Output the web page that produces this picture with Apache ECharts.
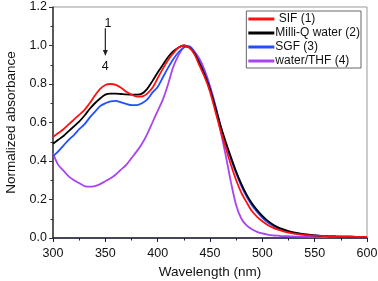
<!DOCTYPE html>
<html><head><meta charset="utf-8">
<script src="https://cdn.jsdelivr.net/npm/echarts@6/dist/echarts.min.js"></script>
<style>html,body{margin:0;padding:0;background:#fff}#c{width:378px;height:281px}</style>
</head><body><div id="c"></div>
<script>
const wavelengths = [300,305,310,315,320,325,330,335,340,345,350,355,360,365,370,375,380,385,390,395,400,405,410,415,420,425,430,435,440,445,450,455,460,465,470,475,480,485,490,495,500,505,510,515,520,525,530,540,550,560,570,580,590,600];
const sif =    [0.525,0.545,0.565,0.59,0.615,0.64,0.665,0.70,0.74,0.775,0.795,0.80,0.795,0.78,0.76,0.745,0.735,0.735,0.75,0.78,0.83,0.88,0.925,0.96,0.99,1.0,0.99,0.955,0.895,0.835,0.76,0.66,0.56,0.47,0.38,0.30,0.235,0.185,0.14,0.11,0.087,0.068,0.054,0.043,0.035,0.028,0.023,0.016,0.012,0.009,0.008,0.007,0.006,0.006];
const milliQ = [0.49,0.51,0.53,0.555,0.58,0.605,0.635,0.67,0.70,0.725,0.745,0.75,0.75,0.748,0.746,0.745,0.745,0.75,0.775,0.815,0.86,0.90,0.94,0.97,0.99,1.0,0.99,0.96,0.905,0.845,0.77,0.68,0.585,0.50,0.42,0.345,0.28,0.225,0.18,0.145,0.115,0.09,0.07,0.055,0.045,0.036,0.029,0.02,0.014,0.01,0.008,0.007,0.006,0.006];
const sgf =    [0.425,0.45,0.48,0.51,0.535,0.565,0.59,0.625,0.655,0.685,0.70,0.71,0.712,0.705,0.697,0.69,0.69,0.70,0.72,0.755,0.785,0.835,0.885,0.93,0.965,0.99,0.995,0.965,0.915,0.855,0.78,0.69,0.585,0.49,0.41,0.335,0.27,0.215,0.17,0.135,0.105,0.082,0.064,0.05,0.04,0.032,0.026,0.018,0.013,0.01,0.008,0.007,0.006,0.006];
const waterTHF=[0.44,0.38,0.35,0.32,0.30,0.285,0.27,0.267,0.27,0.28,0.295,0.31,0.33,0.355,0.38,0.415,0.45,0.49,0.54,0.60,0.66,0.72,0.80,0.89,0.95,0.99,0.995,0.97,0.93,0.87,0.79,0.69,0.56,0.43,0.29,0.17,0.10,0.065,0.045,0.032,0.024,0.018,0.014,0.012,0.01,0.009,0.008,0.007,0.006,0.005,0.005,0.005,0.005,0.005];
const seriesNames = [' SIF (1)','Milli-Q water (2)','SGF (3)','water/THF (4)'];
const seriesColors = ['#ff1010','#000000','#2050ff','#a844f0'];
const xTicks = {min:300,max:600,interval:50};
const yTicks = {min:0,max:1.2,interval:0.2};

const allData = [sif, milliQ, sgf, waterTHF];
const chart = echarts.init(document.getElementById('c'));
const font = 'Liberation Sans, Arial, sans-serif';
chart.setOption({
  animation:false,
  grid:{left:53,right:11,top:7,bottom:43,containLabel:false,outerBoundsMode:'none',show:true,borderColor:'#999',borderWidth:1},
  legend:{orient:'vertical',top:11,right:17,itemWidth:26,itemHeight:3,itemGap:2,icon:'rect',
    borderColor:'#666',borderWidth:1,padding:[2,1,1,2],backgroundColor:'#fff',
    textStyle:{fontFamily:font,fontSize:12,color:'#111',padding:[0,0,0,-4]},
    data:seriesNames},
  xAxis:{type:'value',min:xTicks.min,max:xTicks.max,interval:xTicks.interval,
    name:'Wavelength (nm)',nameLocation:'middle',nameGap:27,
    nameTextStyle:{fontFamily:font,fontSize:13.5,color:'#111'},
    axisLine:{lineStyle:{color:'#1a1a3a',width:1.5}},
    axisTick:{inside:false,length:4,lineStyle:{color:'#1a1a3a'}},
    minorTick:{show:true,splitNumber:2,length:2.5,lineStyle:{color:'#1a1a3a'}},
    splitLine:{show:false},
    axisLabel:{fontFamily:font,fontSize:12.5,color:'#111',margin:9}},
  yAxis:{type:'value',min:yTicks.min,max:yTicks.max,interval:yTicks.interval,
    name:'Normalized absorbance',nameLocation:'middle',nameGap:35,
    nameTextStyle:{fontFamily:font,fontSize:13.5,color:'#111'},
    axisLine:{show:true,lineStyle:{color:'#333',width:1.5}},
    axisTick:{show:true,inside:false,length:4,lineStyle:{color:'#333'}},
    minorTick:{show:true,splitNumber:2,length:2.5,lineStyle:{color:'#333'}},
    splitLine:{show:false},
    axisLabel:{fontFamily:font,fontSize:12.5,color:'#111',margin:6,formatter:v=>v.toFixed(1)}},
  series: seriesNames.map((n,i)=>({name:n,type:'line',showSymbol:false,smooth:0.3,
    color:seriesColors[i],lineStyle:{width:1.8,color:seriesColors[i]},
    data:wavelengths.map((w,j)=>[w,allData[i][j]]),z:10-i}))
});
const p1 = chart.convertToPixel({gridIndex:0},[352.5,1.115]);
const a0 = chart.convertToPixel({gridIndex:0},[350,1.09]);
const a1 = chart.convertToPixel({gridIndex:0},[350,0.945]);
const p4 = chart.convertToPixel({gridIndex:0},[350,0.89]);
chart.setOption({graphic:[
  {type:'text',x:p1[0],y:p1[1],style:{text:'1',font:'12.5px '+font,fill:'#111',align:'center',verticalAlign:'middle'}},
  {type:'text',x:p4[0],y:p4[1],style:{text:'4',font:'12.5px '+font,fill:'#111',align:'center',verticalAlign:'middle'}},
  {type:'line',shape:{x1:a0[0],y1:a0[1],x2:a1[0],y2:a1[1]-4},style:{stroke:'#222',lineWidth:1.2}},
  {type:'polygon',shape:{points:[[a1[0]-2.5,a1[1]-6],[a1[0]+2.5,a1[1]-6],[a1[0],a1[1]]]},style:{fill:'#222'}}
]});
</script></body></html>
